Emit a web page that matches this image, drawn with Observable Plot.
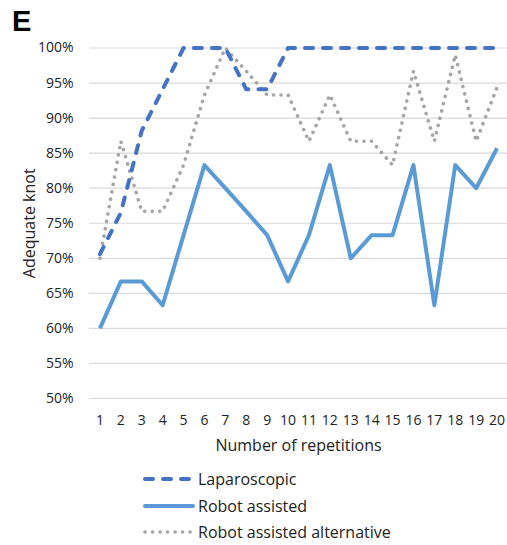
<!DOCTYPE html>
<html>
<head>
<meta charset="utf-8">
<script src="https://cdn.jsdelivr.net/npm/d3@7"></script>
<script src="https://cdn.jsdelivr.net/npm/@observablehq/plot@0.6"></script>
<style>
  html, body { margin: 0; padding: 0; background: #fff; }
  body { width: 507px; height: 545px; overflow: hidden; font-family: "Open Sans", sans-serif; }
  #wrap { position: relative; width: 507px; height: 545px; }
  #tag { position: absolute; left: 12px; top: 5px; font: bold 29px "Liberation Sans", Arial, sans-serif; color: #000; }
  #legend { position: absolute; left: 143px; top: 466px; font-size: 16px; color: #222; }
  .row { display: flex; align-items: center; height: 26.5px; }
  .row svg { width: 52px; height: 10px; margin-right: 3px; }
</style>
</head>
<body>
<div id="wrap">
  <div id="chart"></div>
  <div id="tag">E</div>
  <div id="legend"></div>
</div>
<script>
const repetitions = d3.range(1, 21);
const seriesNames = ["Laparoscopic", "Robot assisted", "Robot assisted alternative"];
const laparoscopic = [70.6, 76.5, 88.2, 94.1, 100, 100, 100, 94.1, 94.1, 100, 100, 100, 100, 100, 100, 100, 100, 100, 100, 100];
const robotAssisted = [60, 66.7, 66.7, 63.3, 73.3, 83.3, 80, 76.7, 73.3, 66.7, 73.3, 83.3, 70, 73.3, 73.3, 83.3, 63.3, 83.3, 80, 85.7];
const robotAlternative = [70, 86.7, 76.7, 76.7, 83.3, 93.3, 100, 96.7, 93.3, 93.3, 86.7, 93.3, 86.7, 86.7, 83.3, 96.7, 86.7, 99, 86.7, 94.4];
const yTicks = [50, 55, 60, 65, 70, 75, 80, 85, 90, 95, 100];

const styles = {
  "Laparoscopic": {stroke: "#4472C4", strokeWidth: 4, strokeDasharray: "8,10", strokeLinecap: "round"},
  "Robot assisted": {stroke: "#5B9BD5", strokeWidth: 4, strokeDasharray: null, strokeLinecap: "butt"},
  "Robot assisted alternative": {stroke: "#A5A5A5", strokeWidth: 3.6, strokeDasharray: "0.1,7.4", strokeLinecap: "round"}
};

const values = [laparoscopic, robotAssisted, robotAlternative];
const table = seriesNames.map((name, i) => repetitions.map((r, j) => ({series: name, rep: r, value: values[i][j]})));

const drawOrder = [2, 1, 0];
const lineMarks = drawOrder.map(i => {
  const s = styles[seriesNames[i]];
  return Plot.line(table[i], {
    x: "rep", y: "value",
    stroke: s.stroke, strokeWidth: s.strokeWidth,
    strokeDasharray: s.strokeDasharray || undefined,
    strokeLinecap: s.strokeLinecap, strokeLinejoin: "round"
  });
});

const chart = Plot.plot({
  width: 507,
  height: 545,
  marginTop: 47.5,
  marginBottom: 147,
  marginLeft: 89,
  marginRight: 0,
  style: {fontFamily: "'Open Sans', sans-serif", fontSize: "14px", color: "#222", background: "#fff"},
  x: {type: "linear", domain: [0.5, 20.5]},
  y: {domain: [50, 100]},
  marks: [
    Plot.gridY(yTicks, {stroke: "#d9d9d9", strokeOpacity: 1, strokeWidth: 1.2}),
    Plot.axisY({ticks: yTicks, tickSize: 0, tickPadding: 16, tickFormat: d => d + "%",
      label: "Adequate knot", labelAnchor: "center", labelArrow: "none", labelOffset: 66, fontSize: 14}),
    Plot.axisX({ticks: repetitions, tickSize: 0, tickPadding: 17, fontSize: 14, tickFormat: d => String(d),
      label: "Number of repetitions", labelAnchor: "center", labelArrow: "none", labelOffset: 52}),
    ...lineMarks
  ]
});
chart.querySelectorAll("[aria-label='y-axis label'] text, [aria-label='x-axis label'] text").forEach(t => t.style.fontSize = "16px");
document.getElementById("chart").appendChild(chart);

const legend = document.getElementById("legend");
seriesNames.forEach(name => {
  const s = styles[name];
  const row = document.createElement("div");
  row.className = "row";
  const dash = s.strokeDasharray ? `stroke-dasharray="${s.strokeDasharray}"` : "";
  row.innerHTML = `<svg viewBox="0 0 52 10"><line x1="2" y1="5" x2="50" y2="5" stroke="${s.stroke}" stroke-width="${s.strokeWidth}" stroke-linecap="round" ${dash}/></svg><span>${name}</span>`;
  legend.appendChild(row);
});
</script>
</body>
</html>
